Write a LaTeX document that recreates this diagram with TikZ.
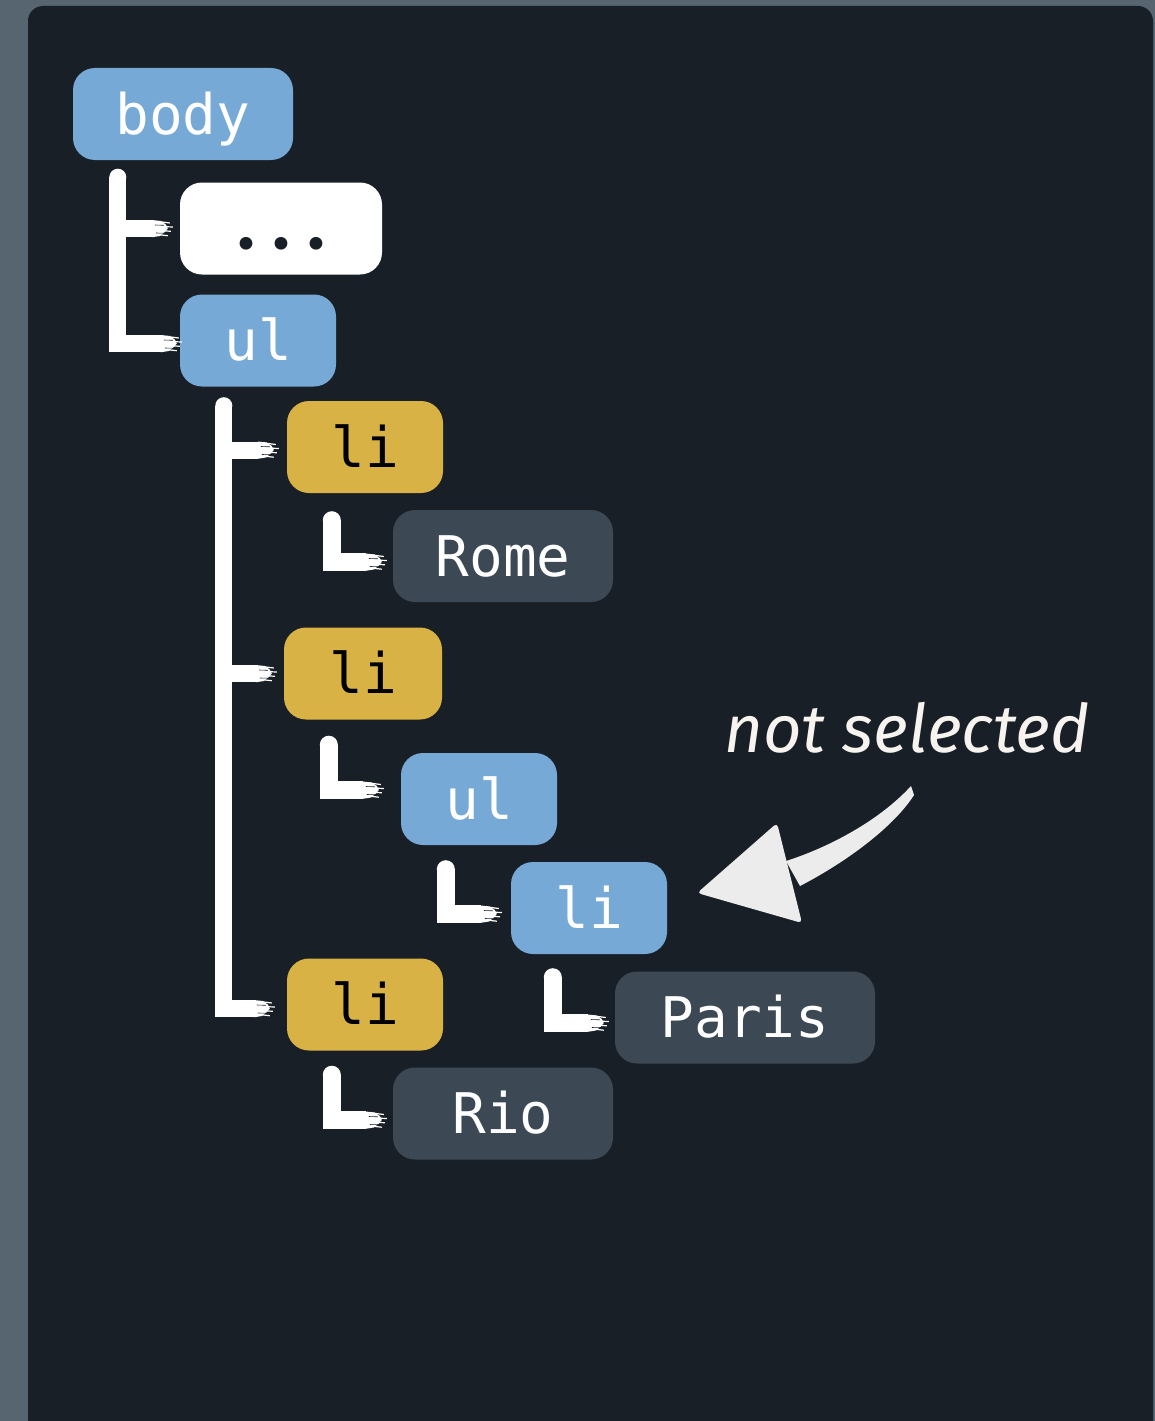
\documentclass[tikz,border=0pt]{standalone}
\usepackage{fontspec}
\setmonofont{DejaVu Sans Mono}
\newfontfamily\notefont{Fira Sans}
\newfontfamily\dotfont{Lato}
\usetikzlibrary{arrows.meta,calc}
\definecolor{outerbg}{HTML}{566570}
\definecolor{panelbg}{HTML}{191F27}
\definecolor{tagblue}{HTML}{76A9D5}
\definecolor{taggold}{HTML}{D9B245}
\definecolor{tagslate}{HTML}{3C4955}
\definecolor{arrowgray}{HTML}{ECECEC}
\definecolor{notetext}{HTML}{F7F3EE}
\newcommand\brushfray[1]{%
  \fill[white] ($(#1)+(0,-8.5)$) -- ($(#1)+(9,-7.5)$) -- ($(#1)+(14,-4)$)
    -- ($(#1)+(16,0)$) -- ($(#1)+(13,3.5)$) -- ($(#1)+(8,7.5)$) -- ($(#1)+(0,8.8)$) -- cycle;
  \draw[white, line width=1.2pt] ($(#1)+(6,-7)$) -- ++(12,1.5);
  \draw[white, line width=1.2pt] ($(#1)+(8,-2)$) -- ++(13,0.5);
  \draw[white, line width=1.2pt] ($(#1)+(8,2)$) -- ++(11,0.8);
  \draw[white, line width=1.2pt] ($(#1)+(5,6)$) -- ++(11,1.2);
  \draw[panelbg, line width=0.6pt] ($(#1)+(3,-3.5)$) -- ++(9,0.3);
  \draw[panelbg, line width=0.6pt] ($(#1)+(4,4.5)$) -- ++(8,0.2);
}
\begin{document}
\begin{tikzpicture}[x=1pt,y=-1pt,
  tagbox/.style={rounded corners=22pt, minimum height=92pt, inner sep=0pt,
    font=\ttfamily\fontsize{56}{60}\selectfont, text height=40pt, text depth=0pt},
  bluebox/.style={tagbox, fill=tagblue, text=white},
  goldbox/.style={tagbox, fill=taggold, text=black},
  slatebox/.style={tagbox, fill=tagslate, text=white},
  whitebox/.style={tagbox, fill=white, text=panelbg},
  brush/.style={draw=white, line width=17pt, line join=miter, line cap=butt},
  brushtop/.style={fill=white},
]
\useasboundingbox (0,0) rectangle (1155,1421);
\begin{scope}
\clip (0,0) rectangle (1155,1421);
\fill[outerbg] (0,0) rectangle (1155,1421);
\fill[panelbg, rounded corners=15pt] (28,6) rectangle (1153,1460);
\end{scope}

% nodes
\node[bluebox, minimum width=220pt] (body) at (183,114) {body};
\node[whitebox, minimum width=202pt, font=\dotfont\bfseries\fontsize{84}{88}\selectfont, text=panelbg] (dots) at (281,228.5)
  {\raisebox{-1pt}{\makebox[35pt]{.}\makebox[35pt]{.}\makebox[35pt]{.}}};
\node[bluebox, minimum width=156pt] (ul) at (258,340.5) {ul};
\node[goldbox, minimum width=156pt] (li1) at (365,447) {li};
\node[slatebox, minimum width=220pt] (rome) at (503,556) {Rome};
\node[goldbox, minimum width=158pt] (li2) at (363,673.5) {li};
\node[bluebox, minimum width=156pt] (ul2) at (479,799) {ul};
\node[bluebox, minimum width=156pt] (li3) at (589,908) {li};
\node[goldbox, minimum width=156pt] (li4) at (365,1004.5) {li};
\node[slatebox, minimum width=260pt] (paris) at (745,1017.5) {Paris};
\node[slatebox, minimum width=220pt] (rio) at (503,1113.5) {Rio};

% body tree
\coordinate (bt) at ($(body.south west)+(45,17)$);
\fill[brushtop] (bt) circle (8.5pt);
\coordinate (e1) at ($(dots.west)+(-28,0)$);
\coordinate (e2) at ($(ul.west)+(-19,3)$);
\draw[brush] (bt) |- (e1); \brushfray{e1}
\draw[brush] (bt) |- (e2); \brushfray{e2}

% ul tree
\coordinate (ut) at ($(ul.south west)+(44,19)$);
\fill[brushtop] (ut) circle (8.5pt);
\coordinate (e3) at ($(li4.west)+(-33,4)$);
\coordinate (e4) at ($(li1.west)+(-29,3)$);
\coordinate (e5) at ($(li2.west)+(-28,0)$);
\draw[brush] (ut) |- (e3); \brushfray{e3}
\draw[brush] (ut |- e4) -- (e4); \brushfray{e4}
\draw[brush] (ut |- e5) -- (e5); \brushfray{e5}

% small L connectors
\coordinate (c1) at ($(li1.south west)+(45,27)$);
\coordinate (f1) at ($(rome.west)+(-27,6)$);
\fill[brushtop] (c1) circle (9pt);
\draw[brush, line width=18pt] (c1) |- (f1); \brushfray{f1}

\coordinate (c2) at ($(li2.south west)+(45,25)$);
\coordinate (f2) at ($(ul2.west)+(-38,-9)$);
\fill[brushtop] (c2) circle (9pt);
\draw[brush, line width=18pt] (c2) |- (f2); \brushfray{f2}

\coordinate (c3) at ($(ul2.south west)+(45,24)$);
\coordinate (f3) at ($(li3.west)+(-30,6)$);
\fill[brushtop] (c3) circle (9pt);
\draw[brush, line width=18pt] (c3) |- (f3); \brushfray{f3}

\coordinate (c4) at ($(li3.south west)+(42,23)$);
\coordinate (f4) at ($(paris.west)+(-27,5.5)$);
\fill[brushtop] (c4) circle (9pt);
\draw[brush, line width=18pt] (c4) |- (f4); \brushfray{f4}

\coordinate (c5) at ($(li4.south west)+(45,24)$);
\coordinate (f5) at ($(rio.west)+(-27,6.5)$);
\fill[brushtop] (c5) circle (9pt);
\draw[brush, line width=18pt] (c5) |- (f5); \brushfray{f5}

% note and arrow
\node[anchor=base west, inner sep=0pt, text=notetext,
  font=\notefont\itshape\fontsize{67}{70}\selectfont] (note) at (724,752) {not selected};
\coordinate (tip) at ($(li3.east)+(30,-15)$);
\fill[arrowgray] (786,861) .. controls (830,847) and (880,820) .. (911,786)
  -- (914,795) .. controls (895,825) and (850,860) .. (800,886) -- cycle;
\fill[arrowgray, rounded corners=4pt] (tip) -- (777,823) -- (802,923) -- cycle;
\end{tikzpicture}
\end{document}
